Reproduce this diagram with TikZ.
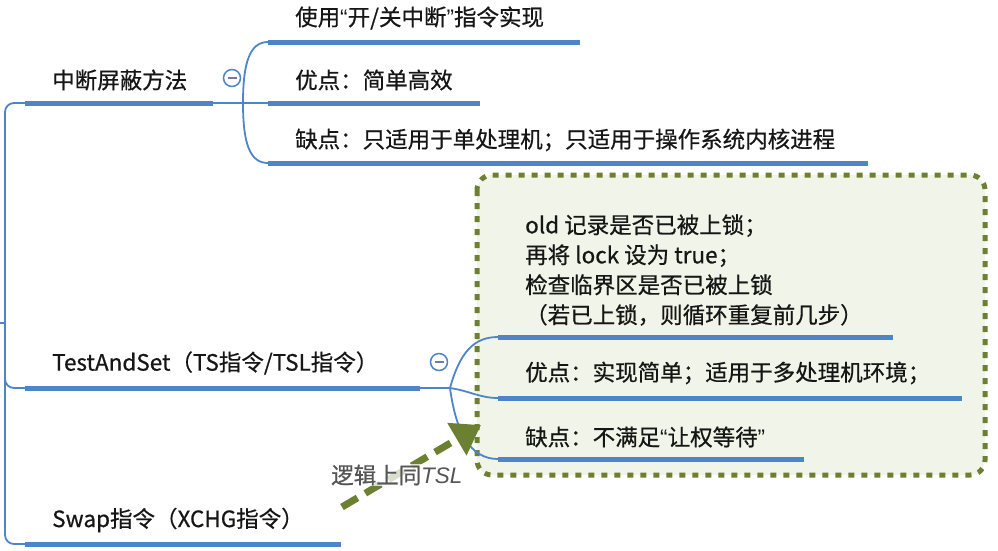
\documentclass[tikz,border=0pt]{standalone}
\usepackage{fontspec}
\setmainfont{Noto Sans CJK SC}[FakeBold=0.6]
\newfontfamily\tslfont{Liberation Sans}
\newcommand{\mmlq}{{\tslfont “}}
\newcommand{\mmrq}{{\tslfont ”}}
\usetikzlibrary{arrows.meta}
\definecolor{mmblue}{RGB}{78,133,200}
\definecolor{mmgreen}{RGB}{108,128,50}
\definecolor{mmfill}{RGB}{241,244,232}
\definecolor{mmtext}{RGB}{22,22,22}
\definecolor{mmgray}{RGB}{85,85,85}
\definecolor{mmminus}{RGB}{120,120,165}
\begin{document}
\begin{tikzpicture}[x=1pt,y=-1pt,
  lbl/.style={anchor=west,inner sep=0pt,text=mmtext,font=\fontsize{22.5}{30}\selectfont},
  bar/.style={draw=mmblue,line width=5pt},
  conn/.style={draw=mmblue,line width=1.8pt},
  fold/.style={circle,draw=mmblue,line width=1.5pt,minimum size=17pt,inner sep=0pt,fill=white},
  tsbox/.style={draw=mmgreen,line width=5pt,dash pattern=on 6pt off 7pt,rounded corners=15pt,fill=mmfill},
]
\useasboundingbox (0,0) rectangle (998,550);

% dotted box
\draw[tsbox] (477,175) rectangle (985,475);

% bar coordinates
\coordinate (b1s) at (25,103);  \coordinate (b1e) at (213,103);
\coordinate (b2s) at (25,388);  \coordinate (b2e) at (420,388);
\coordinate (b3s) at (25,544);  \coordinate (b3e) at (341,544);
\coordinate (c11s) at (268,42);  \coordinate (c11e) at (580,42);
\coordinate (c12s) at (268,103); \coordinate (c12e) at (480,103);
\coordinate (c13s) at (268,163); \coordinate (c13e) at (868,163);
\coordinate (c21s) at (498,337); \coordinate (c21e) at (893,337);
\coordinate (c22s) at (498,398); \coordinate (c22e) at (962,398);
\coordinate (c23s) at (498,459); \coordinate (c23e) at (804,459);
\coordinate (root) at (0,323);
\coordinate (j1) at (243,103);
\coordinate (j2) at (450,388);

% main trunk
\draw[conn] (root) -- (5,323);
\draw[conn, rounded corners=9pt] (b1s) -- (5,103) -- (5,544) -- (b3s);
\draw[conn, rounded corners=9pt] (5,370) |- (b2s);

% branch 1 connectors
\draw[conn] (b1e) -- (c12s);
\draw[conn] (j1) .. controls (243,62) and (250,42) .. (c11s);
\draw[conn] (j1) .. controls (243,144) and (250,163) .. (c13s);

% branch 2 connectors
\draw[conn] (b2e) -- (j2);
\draw[conn] (j2) .. controls (460,352) and (474,337) .. (c21s);
\draw[conn] (j2) .. controls (470,391) and (480,398) .. (c22s);
\draw[conn] (j2) .. controls (456,432) and (470,459) .. (c23s);

% bars
\foreach \a/\b in {b1s/b1e,b2s/b2e,b3s/b3e,c11s/c11e,c12s/c12e,c13s/c13e,c21s/c21e,c22s/c22e,c23s/c23e}
  \draw[bar] (\a) -- (\b);

% fold markers
\node[fold] (f1) at (232,78) {};
\draw[mmminus, line width=1.6pt] ([xshift=-4.5pt]f1.center) -- ([xshift=4.5pt]f1.center);
\node[fold] (f2) at (439,362) {};
\draw[mmminus, line width=1.6pt] ([xshift=-4.5pt]f2.center) -- ([xshift=4.5pt]f2.center);

% labels
\node[lbl] (n1) at (52,80) {中断屏蔽方法};
\node[lbl] (n11) at (295,18) {使用\mmlq 开/关中断\mmrq 指令实现};
\node[lbl] (n12) at (295,80) {优点：简单高效};
\node[lbl] (n13) at (295,140) {缺点：只适用于单处理机；只适用于操作系统内核进程};
\node[lbl] (n2) at (52,363) {TestAndSet（TS指令/TSL指令）};
\node[lbl] (n3) at (52,520) {Swap指令（XCHG指令）};
\node[lbl, align=left] (n21) at (525,270) {old 记录是否已被上锁；\\再将 lock 设为 true；\\检查临界区是否已被上锁\\（若已上锁，则循环重复前几步）};
\node[lbl] (n22) at (525,373) {优点：实现简单；适用于多处理机环境；};
\node[lbl] (n23) at (525,437) {缺点：不满足\mmlq 让权等待\mmrq};

% arrow
\coordinate (as) at (342,507);
\coordinate (ae) at (481,425);
\draw[mmgreen, line width=7pt, dash pattern=on 18pt off 9pt, -{Triangle[length=28pt,width=36pt]}] (as) -- (ae);
\node[lbl, text=mmgray, fill=white, fill opacity=0.75, text opacity=1, inner sep=1pt] (lg) at (330,475) {逻辑上同{\tslfont\itshape TSL}};
\end{tikzpicture}
\end{document}
